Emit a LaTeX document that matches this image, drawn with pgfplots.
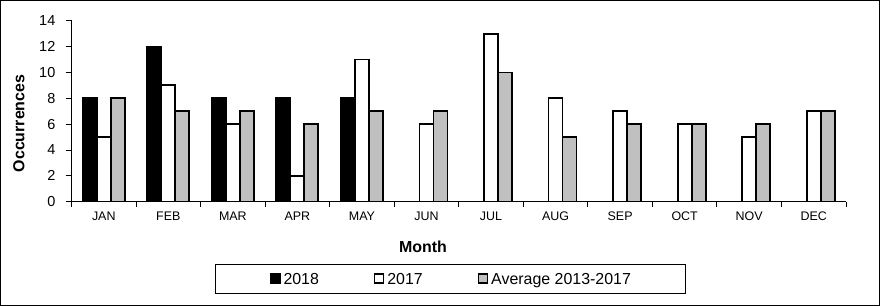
\documentclass[border=0pt]{standalone}
\usepackage{fontspec}
\setmainfont{Liberation Sans}
\usepackage{pgfplots}
\pgfplotsset{compat=1.18}
\definecolor{avggray}{RGB}{192,192,192}
\begin{document}
\begin{tikzpicture}
\useasboundingbox (0,0) rectangle (880bp,306bp);
\draw[line width=1bp] (0.5bp,0.5bp) rectangle (879.5bp,305.5bp);
\begin{axis}[
  at={(71.5bp,104.3bp)}, anchor=south west,
  scale only axis, width=774.5bp, height=181bp,
  ybar=0pt, bar width=14bp,
  xmin=-0.5, xmax=11.5, ymin=0, ymax=14,
  axis x line*=bottom, axis y line*=left,
  axis line style={-, line width=0.9bp},
  tick align=outside,
  major tick length=6bp, minor tick length=5bp,
  xtick={0,...,11},
  xticklabels={JAN,FEB,MAR,APR,MAY,JUN,JUL,AUG,SEP,OCT,NOV,DEC},
  minor xtick={-0.5,0.5,...,11.5},
  major x tick style={draw=none},
  every tick/.style={line width=0.9bp, black},
  minor x tick style={line width=0.9bp, black},
  ytick={0,2,...,14},
  /pgf/number format/assume math mode=true,
  xticklabel shift=4bp, yticklabel shift=10bp,
  xticklabel style={font=\fontsize{12.5}{14}\selectfont, anchor=north, inner sep=0pt},
  yticklabel style={font=\fontsize{14.5}{16}\selectfont, anchor=east, inner sep=0pt},
  xlabel={Month}, ylabel={Occurrences},
  label style={font=\bfseries\fontsize{16}{18}\selectfont},
  xlabel style={at={(axis description cs:0.4539,-0.2503)}, anchor=center, inner sep=0pt},
  ylabel style={at={(axis description cs:-0.0678,0.432)}, anchor=center, rotate=0, inner sep=0pt},
  legend columns=3,
  legend image code/.code={\draw[#1,/tikz/.cd,line width=1.4bp] (0bp,-4.5bp) rectangle (9bp,4.5bp);},
  legend style={
    at={(0.4894,-0.4243)}, anchor=center,
    draw=black, line width=0.9bp, fill=white,
    font=\fontsize{16}{18}\selectfont,
    inner xsep=54.5bp, inner ysep=8.75bp,
    nodes={inner sep=0pt, text height=11.5bp, text depth=0bp},
    /tikz/every odd column/.append style={column sep=3bp},
    /tikz/every even column/.append style={column sep=55bp},
  },
]
\addplot[draw=black, fill=black, line width=1.8bp] coordinates {(0,8) (1,12) (2,8) (3,8) (4,8)};
\addplot[draw=black, fill=white, line width=1.8bp] coordinates {(0,5) (1,9) (2,6) (3,2) (4,11) (5,6) (6,13) (7,8) (8,7) (9,6) (10,5) (11,7)};
\addplot[draw=black, fill=avggray, line width=1.8bp] coordinates {(0,8) (1,7) (2,7) (3,6) (4,7) (5,7) (6,10) (7,5) (8,6) (9,6) (10,6) (11,7)};
\legend{2018,2017,Average 2013-2017}
\end{axis}
\end{tikzpicture}
\end{document}
